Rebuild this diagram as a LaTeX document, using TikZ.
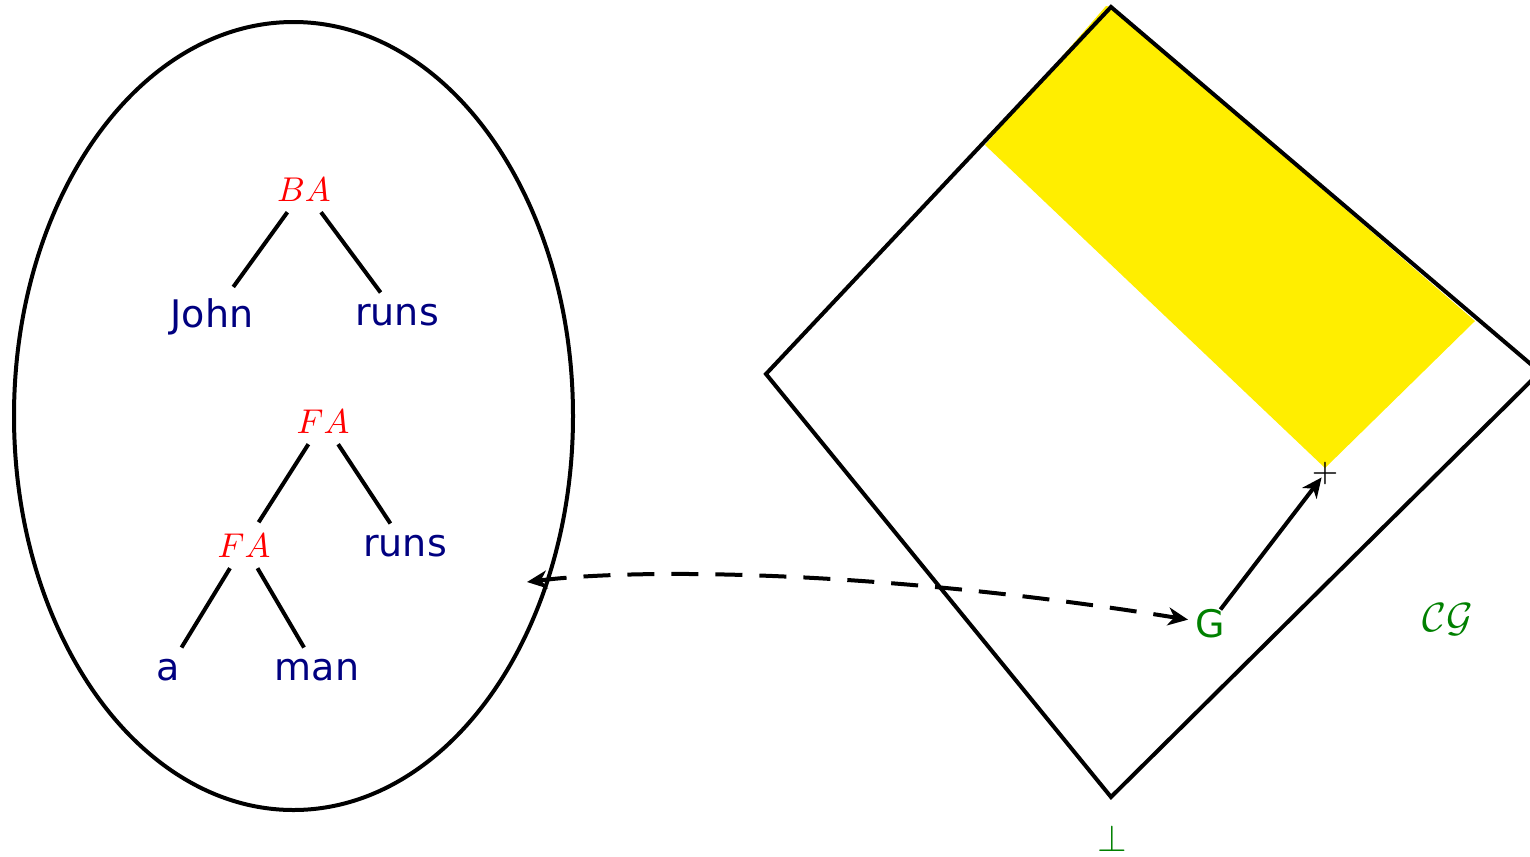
\documentclass[tikz,border=0pt]{standalone}
\usepackage[no-math]{fontspec}
\setmainfont{DejaVu Sans}
\DeclareFontShape{OML}{cmm}{m}{it}{<-> cmmi10}{}
\DeclareFontShape{OMS}{cmsy}{m}{n}{<-> cmsy10}{}
\usetikzlibrary{arrows.meta}
\definecolor{navyc}{RGB}{0,0,128}
\definecolor{greenc}{RGB}{0,128,0}
\definecolor{yellowc}{RGB}{255,238,0}
\definecolor{redc}{RGB}{255,0,0}
\tikzset{
  word/.style={text=navyc, font=\fontsize{9.5}{11}\selectfont, inner sep=2.6pt, anchor=base},
  rulelbl/.style={text=redc, font=\fontsize{8.6}{10}\selectfont, inner sep=2.6pt, anchor=base},
  treeedge/.style={line width=1pt},
  glabel/.style={text=greenc, font=\fontsize{9.5}{11}\selectfont, anchor=base, inner sep=1.6pt},
  tipm/.tip={Stealth[length=5pt,width=4.5pt,inset=1.5pt]},
  dashlink/.style={line width=1pt, dash pattern=on 6.75pt off 4.25pt}
}
\begin{document}
\begin{tikzpicture}[x=0.25pt,y=-0.25pt]
\useasboundingbox (0,0) rectangle (1530,856);

% left ellipse with trees
\draw[line width=1pt] (293.5,416) ellipse [x radius=279.5, y radius=394];

\node[rulelbl] (ba) at (304,201) {$BA$};
\node[word] (john) at (212,327) {John};
\node[word] (runs1) at (397,325) {runs};
\draw[treeedge] (ba) -- (john);
\draw[treeedge] (ba) -- (runs1);

\node[rulelbl] (fa1) at (323,433) {$FA$};
\node[rulelbl] (fa2) at (244,557) {$FA$};
\node[word] (runs2) at (405,556) {runs};
\node[word] (a) at (168,680) {a};
\node[word] (man) at (317,680) {man};
\draw[treeedge] (fa1) -- (fa2);
\draw[treeedge] (fa1) -- (runs2);
\draw[treeedge] (fa2) -- (a);
\draw[treeedge] (fa2) -- (man);

% right diamond
\fill[yellowc] (1106,6) -- (985,145) -- (1325,468) -- (1475,321) -- (1111,7) -- cycle;
\draw[line width=1pt] (1111,7) -- (766,374) -- (1111,797) -- (1540,372) -- cycle;

\node[inner sep=0pt, font=\fontsize{8}{9}\selectfont] (plus) at (1325,473) {$+$};
\node[glabel] (g) at (1210,637) {G};
\node[glabel, font=\fontsize{10.2}{12}\selectfont] (cg) at (1448,631) {$\mathcal{CG}$};
\node[glabel] (bot) at (1112,851) {$\bot$};

\draw[line width=1pt, -{tipm}, shorten >=1.4pt, shorten <=-2.5pt] (g) -- (plus.center);

\coordinate (e) at (527,582);
\draw[dashlink, {tipm}-{tipm}] (e) .. controls (640,568) and (880,570) .. (g);
\end{tikzpicture}
\end{document}
